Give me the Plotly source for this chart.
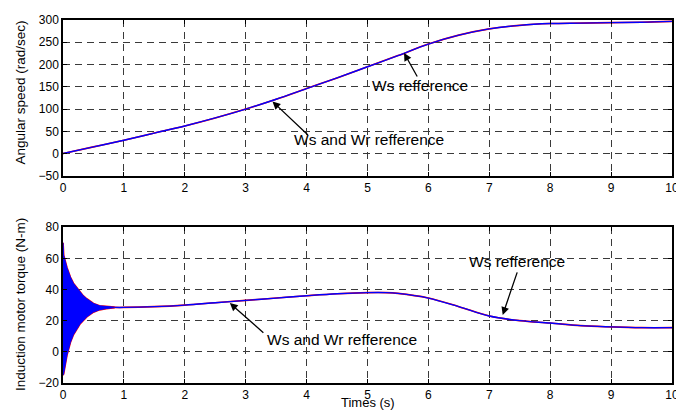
import plotly.graph_objects as go
from plotly.subplots import make_subplots

# ---- data ----
t_speed = [0, 0.5, 1, 1.5, 2, 2.5, 3, 3.5, 4, 4.5, 5, 5.5, 6, 6.5, 7, 7.5, 8, 8.5, 9, 9.5, 10]
speed_ref = [0, 15, 30, 46, 62, 80, 100, 122, 146, 170, 195, 220, 246, 266, 280, 288, 292, 293, 294, 295, 297]
speed_act = [0, 15, 30, 46, 62, 80, 100, 122, 146, 170, 195, 220, 246, 266, 280, 288, 292, 293, 294, 295, 297]

t_env = [0, 0.01, 0.065, 0.12, 0.17, 0.23, 0.28, 0.33, 0.39, 0.5, 0.6, 0.71, 0.85]
torque_upper = [70, 62, 54, 48, 44, 41, 38, 36, 34, 31, 29.5, 29, 28.6]
torque_lower = [-15, -14, -2, 6, 11, 15, 18, 20, 22.5, 25.5, 27, 27.8, 28.4]

t_torque = [0.85, 1, 1.5, 2, 2.5, 3, 3.5, 4, 4.5, 5, 5.3, 5.5, 6, 6.5, 7, 7.5, 8, 8.5, 9, 9.5, 10]
torque = [28.5, 28.5, 29, 30, 31.5, 33, 34.5, 36, 37.3, 38, 38, 37.5, 34.5, 29, 23, 20, 18.5, 16.8, 16, 15.5, 15.5]

x_ticks = [0, 1, 2, 3, 4, 5, 6, 7, 8, 9, 10]
speed_ticks = [-50, 0, 50, 100, 150, 200, 250, 300]
torque_ticks = [-20, 0, 20, 40, 60, 80]

FONT = "Liberation Sans, Arial, sans-serif"
BLUE = "#0000ff"
RED = "#ff0000"

fig = make_subplots(rows=2, cols=1, vertical_spacing=0.0)

# top: angular speed
fig.add_trace(go.Scatter(x=t_speed, y=speed_ref, mode="lines", line=dict(color=RED, width=1.6, shape="spline"),
                         showlegend=False), row=1, col=1)
fig.add_trace(go.Scatter(x=t_speed, y=speed_act, mode="lines", line=dict(color=BLUE, width=1.4, shape="spline"),
                         showlegend=False), row=1, col=1)

# bottom: torque transient (envelope of fast oscillation)
fig.add_trace(go.Scatter(x=t_env, y=torque_upper, mode="lines", line=dict(color=RED, width=1.8),
                         showlegend=False), row=2, col=1)
fig.add_trace(go.Scatter(x=t_env, y=torque_lower, mode="lines", line=dict(color=RED, width=1.8),
                         showlegend=False), row=2, col=1)
fig.add_trace(go.Scatter(x=t_env, y=torque_lower, mode="lines", line=dict(color=BLUE, width=1),
                         showlegend=False), row=2, col=1)
fig.add_trace(go.Scatter(x=t_env, y=torque_upper, mode="lines", line=dict(color=BLUE, width=1),
                         fill="tonexty", fillcolor=BLUE, showlegend=False), row=2, col=1)
fig.add_trace(go.Scatter(x=t_torque, y=torque, mode="lines", line=dict(color=RED, width=1.6, shape="spline"),
                         showlegend=False), row=2, col=1)
fig.add_trace(go.Scatter(x=t_torque, y=torque, mode="lines", line=dict(color=BLUE, width=1.4, shape="spline"),
                         showlegend=False), row=2, col=1)

axis_common = dict(
    showline=True, linecolor="black", linewidth=1.5, mirror="ticks",
    ticks="inside", ticklen=4, tickcolor="black", tickwidth=1,
    showgrid=True, gridcolor="#3a3a3a", gridwidth=1.3, griddash="7px,5px",
    zeroline=False, tickfont=dict(family=FONT, size=12, color="black"),
    ticklabeloverflow="allow",
)

fig.update_xaxes(range=[0, 10], tickvals=x_ticks, **axis_common)
fig.update_yaxes(range=[-50, 300], tickvals=speed_ticks, row=1, col=1, **axis_common)
fig.update_yaxes(range=[-20, 80], tickvals=torque_ticks, row=2, col=1, **axis_common)

# page body has an 8px margin, so the figure is sized/offset to land on the reference pixels
fig.update_layout(
    width=676, height=404,
    margin=dict(l=55, r=5, t=7, b=29),
    paper_bgcolor="white", plot_bgcolor="white",
    font=dict(family=FONT, color="black"),
)
fig.layout.yaxis.domain = [0.5707, 1.0]
fig.layout.yaxis2.domain = [0.0, 0.4293]

ann_font = dict(family=FONT, size=15.5, color="black")
arrow = dict(showarrow=True, arrowhead=2, arrowsize=1.2, arrowwidth=1.3, arrowcolor="black", text="")
annotations = [
    # top
    dict(x=5.60, y=226, xref="x", yref="y", ax=14, ay=25, **arrow),
    dict(x=5.86, y=153, xref="x", yref="y", text="Ws refference", showarrow=False, font=ann_font),
    dict(x=3.44, y=117, xref="x", yref="y", ax=37, ay=35, **arrow),
    dict(x=5.02, y=31, xref="x", yref="y", text="Ws and Wr refference", showarrow=False, font=ann_font),
    # bottom
    dict(x=7.22, y=23.7, xref="x2", yref="y2", ax=15, ay=-44, **arrow),
    dict(x=7.45, y=58.2, xref="x2", yref="y2", text="Ws refference", showarrow=False, font=ann_font),
    dict(x=2.74, y=31.3, xref="x2", yref="y2", ax=35, ay=31, **arrow),
    dict(x=4.58, y=7.8, xref="x2", yref="y2", text="Ws and Wr refference", showarrow=False, font=ann_font),
    # axis titles
    dict(x=-0.0698, y=0.8016, xref="paper", yref="paper", text="Angular speed (rad/sec)", textangle=-90,
         showarrow=False, font=dict(family=FONT, size=13.5, color="black"), xanchor="center", yanchor="middle"),
    dict(x=-0.0698, y=0.216, xref="paper", yref="paper", text="Induction motor torque (N-m)", textangle=-90,
         showarrow=False, font=dict(family=FONT, size=13.5, color="black"), xanchor="center", yanchor="middle"),
    dict(x=0.5, y=-0.0775, xref="paper", yref="paper", text="Times (s)",
         showarrow=False, font=dict(family=FONT, size=13, color="black"), xanchor="center", yanchor="bottom",
         borderpad=0),
]
fig.update_layout(annotations=annotations)

fig.write_html("out.html")
